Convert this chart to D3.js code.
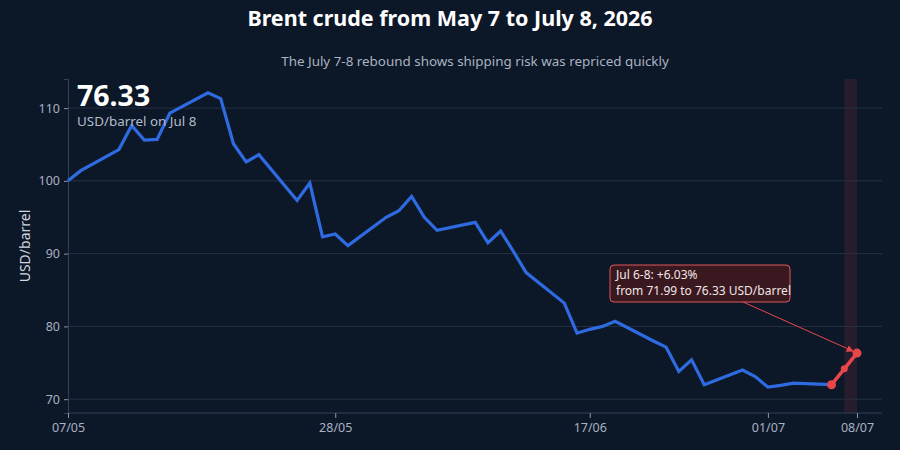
<!DOCTYPE html>
<html>
<head>
<meta charset="utf-8">
<script src="https://cdn.jsdelivr.net/npm/d3@7"></script>
<style>
  html, body { margin: 0; padding: 0; background: #0c1728; }
  svg { display: block; font-family: "Noto Sans", "Open Sans", sans-serif; }
</style>
</head>
<body>
<svg id="chart" width="900" height="450"></svg>
<script>
// Brent daily closes, business days only
const dates = [
  "2026-05-07", "2026-05-08", "2026-05-11", "2026-05-12", "2026-05-13", "2026-05-14", "2026-05-15",
  "2026-05-18", "2026-05-19", "2026-05-20", "2026-05-21", "2026-05-22",
  "2026-05-25", "2026-05-26", "2026-05-27", "2026-05-28", "2026-05-29",
  "2026-06-01", "2026-06-02", "2026-06-03", "2026-06-04", "2026-06-05",
  "2026-06-08", "2026-06-09", "2026-06-10", "2026-06-11", "2026-06-12",
  "2026-06-15", "2026-06-16", "2026-06-17", "2026-06-18", "2026-06-19",
  "2026-06-22", "2026-06-23", "2026-06-24", "2026-06-25", "2026-06-26",
  "2026-06-29", "2026-06-30", "2026-07-01", "2026-07-02", "2026-07-03",
  "2026-07-06", "2026-07-07", "2026-07-08"
];
const prices = [
  100.0, 101.4, 104.3, 107.6, 105.6, 105.7, 109.3,
  112.1, 111.3, 105.1, 102.6, 103.6,
  97.3, 99.7, 92.3, 92.7, 91.1,
  95.0, 95.9, 97.85, 95.0, 93.2,
  94.3, 91.5, 93.1, 90.3, 87.4,
  83.2, 79.07, 79.6, 80.0, 80.7,
  78.0, 77.15, 73.8, 75.4, 72.0,
  74.0, 73.1, 71.65, 71.9, 72.2,
  71.99, 74.17, 76.33
];
const highlightFrom = "2026-07-06";
const bandFrom = "2026-07-07";
const xTickDates = ["2026-05-07", "2026-05-28", "2026-06-17", "2026-07-01", "2026-07-08"];
const yTickValues = [70, 80, 90, 100, 110];

const parse = d3.utcParse("%Y-%m-%d");
const data = dates.map((d, i) => ({ date: parse(d), value: prices[i] }));
const last = data[data.length - 1];
const hiStart = data.findIndex(d => +d.date === +parse(highlightFrom));
const startVal = data[hiStart].value;
const pct = (last.value / startVal - 1) * 100;

const W = 900, H = 450;
const margin = { top: 79, right: 18, bottom: 37, left: 68 };

const svg = d3.select("#chart");

const x = d3.scaleUtc()
    .domain([data[0].date, last.date])
    .range([margin.left, 857]);
const y = d3.scaleLinear()
    .domain([68.1, 114.0])
    .range([H - margin.bottom, margin.top]);

// highlight band Jul 7-8
svg.append("rect")
    .attr("x", x(parse(bandFrom)))
    .attr("y", margin.top)
    .attr("width", x(last.date) - x(parse(bandFrom)))
    .attr("height", H - margin.bottom - margin.top)
    .attr("fill", "#c8404f")
    .attr("opacity", 0.14);

// grid
svg.append("g")
    .selectAll("line")
    .data(yTickValues)
    .join("line")
    .attr("x1", margin.left)
    .attr("x2", W - margin.right)
    .attr("y1", d => y(d))
    .attr("y2", d => y(d))
    .attr("stroke", "#263244")
    .attr("stroke-width", 1);

// y axis
const yAxis = svg.append("g")
    .attr("transform", `translate(${margin.left},0)`)
    .call(d3.axisLeft(y).tickValues(yTickValues).tickSize(4).tickPadding(4));
yAxis.select(".domain").attr("stroke", "#334055");
yAxis.selectAll(".tick line").attr("stroke", "#8a94a6");
yAxis.selectAll(".tick text")
    .attr("fill", "#a8b1c0")
    .style("font-size", "12.5px")
    .style("font-family", "Noto Sans");

// x axis
const xAxis = svg.append("g")
    .attr("transform", `translate(0,${H - margin.bottom})`)
    .call(d3.axisBottom(x)
        .tickValues(xTickDates.map(parse))
        .tickFormat(d3.utcFormat("%d/%m"))
        .tickSize(5)
        .tickPadding(5));
xAxis.select(".domain")
    .attr("d", `M${margin.left},0H${W - margin.right}`)
    .attr("stroke", "#334055");
xAxis.selectAll(".tick line").attr("stroke", "#8a94a6");
xAxis.selectAll(".tick text")
    .attr("fill", "#a8b1c0")
    .style("font-size", "12.5px")
    .style("font-family", "Noto Sans");

// y label
svg.append("text")
    .attr("transform", `translate(30,${(margin.top + H - margin.bottom) / 2}) rotate(-90)`)
    .attr("text-anchor", "middle")
    .attr("fill", "#d0d6df")
    .style("font-size", "14px")
    .text("USD/barrel");

// lines
const line = d3.line()
    .x(d => x(d.date))
    .y(d => y(d.value));

svg.append("path")
    .datum(data.slice(0, hiStart + 1))
    .attr("d", line)
    .attr("fill", "none")
    .attr("stroke", "#2f6be0")
    .attr("stroke-width", 3.2)
    .attr("stroke-linejoin", "miter");

const hi = data.slice(hiStart);
svg.append("path")
    .datum(hi)
    .attr("d", line)
    .attr("fill", "none")
    .attr("stroke", "#e8474a")
    .attr("stroke-width", 3.5);

svg.append("g")
    .selectAll("circle")
    .data(hi)
    .join("circle")
    .attr("cx", d => x(d.date))
    .attr("cy", d => y(d.value))
    .attr("r", (d, i) => i === 1 ? 3.5 : 4.5)
    .attr("fill", "#e8474a");

// annotation arrow
svg.append("defs").append("marker")
    .attr("id", "arrow")
    .attr("viewBox", "0 0 10 10")
    .attr("refX", 9)
    .attr("refY", 5)
    .attr("markerWidth", 7)
    .attr("markerHeight", 7)
    .attr("orient", "auto")
    .append("path")
    .attr("d", "M0,0L10,5L0,10z")
    .attr("fill", "#e8474a");

const boxX = 610, boxY = 265, boxW = 180, boxH = 37;
svg.append("line")
    .attr("x1", 743)
    .attr("y1", boxY + boxH)
    .attr("x2", x(last.date) - 4)
    .attr("y2", y(last.value) - 2)
    .attr("stroke", "#e8474a")
    .attr("stroke-width", 1)
    .attr("marker-end", "url(#arrow)");

svg.append("rect")
    .attr("x", boxX)
    .attr("y", boxY)
    .attr("width", boxW)
    .attr("height", boxH)
    .attr("rx", 4)
    .attr("fill", "#3a1820")
    .attr("stroke", "#e0575a")
    .attr("stroke-width", 1);

const fmt = d3.format(".2f");
svg.append("text")
    .attr("x", boxX + 6)
    .attr("y", boxY + 14)
    .attr("fill", "#f1e6e6")
    .style("font-size", "12px")
    .text(`Jul 6-8: +${fmt(pct)}%`);
svg.append("text")
    .attr("x", boxX + 6)
    .attr("y", boxY + 30)
    .attr("fill", "#f1e6e6")
    .style("font-size", "12px")
    .text(`from ${fmt(startVal)} to ${fmt(last.value)} USD/barrel`);

// headline value
svg.append("text")
    .attr("x", 77)
    .attr("y", 106)
    .attr("fill", "#ffffff")
    .style("font-size", "28.5px")
    .style("font-weight", "bold")
    .text(fmt(last.value));
svg.append("text")
    .attr("x", 77)
    .attr("y", 126)
    .attr("fill", "#b3bcc8")
    .style("font-size", "13.4px")
    .text("USD/barrel on Jul 8");

// titles
svg.append("text")
    .attr("x", W / 2)
    .attr("y", 26)
    .attr("text-anchor", "middle")
    .attr("fill", "#ffffff")
    .style("font-size", "21.5px")
    .style("font-weight", "bold")
    .text("Brent crude from May 7 to July 8, 2026");
svg.append("text")
    .attr("x", (margin.left + W - margin.right) / 2)
    .attr("y", 66)
    .attr("text-anchor", "middle")
    .attr("fill", "#aab3c0")
    .style("font-size", "13.4px")
    .text("The July 7-8 rebound shows shipping risk was repriced quickly");
</script>
</body>
</html>
